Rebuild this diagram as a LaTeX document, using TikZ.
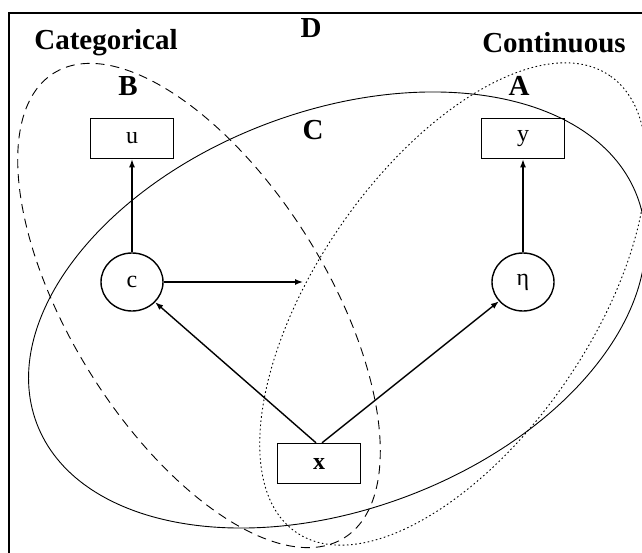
\documentclass[tikz,border=0pt]{standalone}
\usepackage{fontspec}
\setmainfont{Liberation Serif}
\usepackage{tikz}
\usetikzlibrary{shapes.geometric, arrows.meta, positioning}

\begin{document}
\begin{tikzpicture}[
    x=1pt, y=1pt,
    node distance=93pt,
    region/.style={font=\fontsize{29}{34}\selectfont\bfseries},
    obs/.style={rectangle, draw=black, line width=1.4pt, minimum width=83pt, minimum height=40pt, inner sep=0pt, font=\fontsize{24}{28}\selectfont},
    latent/.style={ellipse, draw=black, line width=1.4pt, minimum width=62pt, minimum height=58pt, inner sep=0pt, font=\fontsize{24}{28}\selectfont},
    arrow/.style={-{Latex[length=8pt,width=6pt]}, line width=1.4pt},
    setline/.style={line width=0.9pt}
]
    \useasboundingbox (0,0) rectangle (642,552);
    \clip (0,0) rectangle (642,552);

    % outer frame (D)
    \draw[line width=1.1pt] (9,539) rectangle (680,-30);

    % sets
    \draw[setline] (337,242) ellipse [x radius=321, y radius=199, rotate=20.7];
    \draw[setline, dash pattern=on 9pt off 6pt] (199,246.5) ellipse [x radius=274, y radius=128, rotate=-58];
    \draw[setline, dash pattern=on 1.6pt off 2.6pt] (453,248) ellipse [x radius=277, y radius=137, rotate=55.5];

    % set labels
    \node[region] (lblD) at (311,523.5) {D};
    \node[region] (lblcat) at (106,509) {Categorical};
    \node[region] (lblcont) at (554,509) {Continuous};
    \node[region] (lblB) at (128,466) {B};
    \node[region] (lblA) at (519,466) {A};
    \node[region] (lblC) at (313,422) {C};

    % variables
    \node[latent] (c) at (132,270) {c};
    \node[latent] (eta) at (523,270) {η};
    \node[obs, above=of c] (u) {u};
    \node[obs, above=of eta] (y) {y};
    \node[obs, font=\fontsize{24}{28}\selectfont\bfseries] (x) at (319,88.5) {x};
    \coordinate (mid) at (303,270);

    \draw[arrow] (c) -- (u);
    \draw[arrow] (eta) -- (y);
    \draw[arrow] (c) -- (mid);
    \draw[arrow] ([xshift=-3pt]x.north) -- (c);
    \draw[arrow] ([xshift=3pt]x.north) -- (eta);
\end{tikzpicture}
\end{document}
